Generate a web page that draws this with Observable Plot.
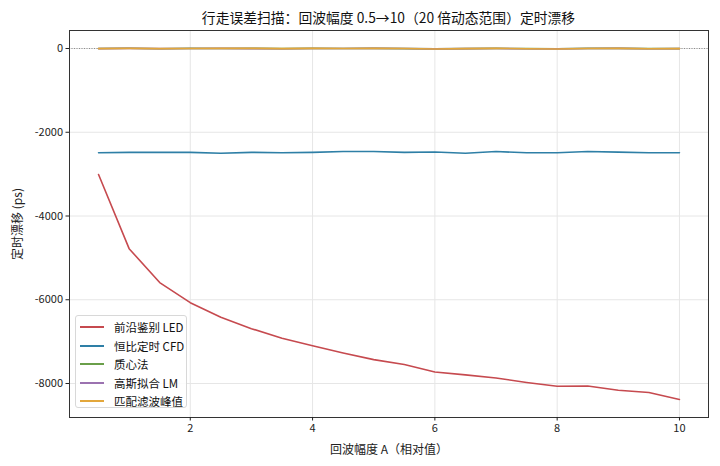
<!DOCTYPE html>
<html>
<head>
<meta charset="utf-8">
<script src="https://cdn.jsdelivr.net/npm/d3@7"></script>
<script src="https://cdn.jsdelivr.net/npm/@observablehq/plot@0.6"></script>
<style>
  body { margin: 0; background: #fff; font-family: "Noto Sans CJK SC", "Noto Sans", sans-serif; }
  #wrap { position: relative; width: 720px; height: 466px; }
  #title { height: 29px; box-sizing: border-box; padding: 8px 12px 0 69px; text-align: center; font-size: 13.8px; color: #111; line-height: 18px; }
  #legend { position: absolute; left: 75px; top: 315px; width: 112px; height: 93px; box-sizing: border-box; border: 1px solid #d8d8d8; border-radius: 3px; background: rgba(255,255,255,0.85); padding: 2px 0 0 4px; font-size: 11.5px; color: #111; }
  .row { display: flex; align-items: center; height: 18.5px; }
  .sw { width: 24px; height: 0; border-top: 2px solid; margin-right: 10px; }
  g[aria-label="x-axis label"], g[aria-label="y-axis label"] { font-size: 12px; }
</style>
</head>
<body>
<div id="wrap">
  <div id="title">行走误差扫描：回波幅度 0.5→10（20 倍动态范围）定时漂移</div>
  <div id="chart"></div>
  <div id="legend"></div>
</div>
<script>
const amplitudes = [0.5,1.0,1.5,2.0,2.5,3.0,3.5,4.0,4.5,5.0,5.5,6.0,6.5,7.0,7.5,8.0,8.5,9.0,9.5,10.0];
const seriesNames = ["前沿鉴别 LED","恒比定时 CFD","质心法","高斯拟合 LM","匹配滤波峰值"];
const seriesColors = ["#c64a4f","#2e7fa6","#6a9f4a","#9b72b0","#e3a73b"];
const ledValues = [-3010,-4780,-5590,-6070,-6420,-6690,-6920,-7100,-7270,-7430,-7545,-7725,-7795,-7870,-7975,-8065,-8060,-8160,-8215,-8380];
const cfdValues = [-2490,-2480,-2480,-2480,-2500,-2480,-2490,-2480,-2460,-2460,-2480,-2470,-2500,-2460,-2490,-2490,-2460,-2475,-2490,-2490];
const centroidValues = [0,5,-5,3,0,4,-3,2,0,3,-2,-8,-2,3,-4,-6,2,3,-4,-2];
const lmValues = [-3,2,-4,0,3,-2,-5,1,-1,2,0,-9,-3,1,-6,-8,0,2,-6,-4];
const mfValues = [-2,3,-2,1,2,3,-4,2,1,2,-1,-10,-3,2,-5,-10,1,2,-5,-3];
const yTicks = [0,-2000,-4000,-6000,-8000];
const xTicks = [2,4,6,8,10];

const allValues = [ledValues, cfdValues, centroidValues, lmValues, mfValues];
const data = [];
seriesNames.forEach((name, i) => {
  amplitudes.forEach((a, j) => data.push({series: name, a, v: allValues[i][j]}));
});

const chart = Plot.plot({
  width: 720,
  height: 437,
  marginLeft: 69,
  marginRight: 12,
  marginTop: 1,
  marginBottom: 49,
  style: { fontFamily: '"Noto Sans CJK SC", "Noto Sans", sans-serif', fontSize: "11px", color: "#222", background: "#fff" },
  x: { domain: [0.025, 10.475] },
  y: { domain: [-8812, 430] },
  color: { domain: seriesNames, range: seriesColors },
  marks: [
    Plot.gridX(xTicks, { stroke: "#e6e6e6", strokeOpacity: 1 }),
    Plot.gridY(yTicks, { stroke: "#e6e6e6", strokeOpacity: 1 }),
    Plot.ruleY([0], { stroke: "#666", strokeWidth: 0.7, strokeDasharray: "1,1.5" }),
    Plot.line(data, { x: "a", y: "v", z: "series", stroke: "series", strokeWidth: 1.6 }),
    Plot.frame({ stroke: "#333", strokeWidth: 1 }),
    Plot.axisX(xTicks, { tickFormat: d => String(d), tickSize: 3.5, tickPadding: 3, label: "回波幅度 A（相对值）", labelAnchor: "center", labelArrow: "none", labelOffset: 36, fontSize: 11 }),
    Plot.axisY(yTicks, { tickFormat: d => String(d), tickSize: 3.5, tickPadding: 3, label: "定时漂移 (ps)", labelAnchor: "center", labelArrow: "none", labelOffset: 56, fontSize: 11 })
  ]
});
document.getElementById("chart").appendChild(chart);

const legend = document.getElementById("legend");
seriesNames.forEach((name, i) => {
  const row = document.createElement("div");
  row.className = "row";
  const sw = document.createElement("span");
  sw.className = "sw";
  sw.style.borderTopColor = seriesColors[i];
  const t = document.createElement("span");
  t.textContent = name;
  row.appendChild(sw); row.appendChild(t);
  legend.appendChild(row);
});
</script>
</body>
</html>
